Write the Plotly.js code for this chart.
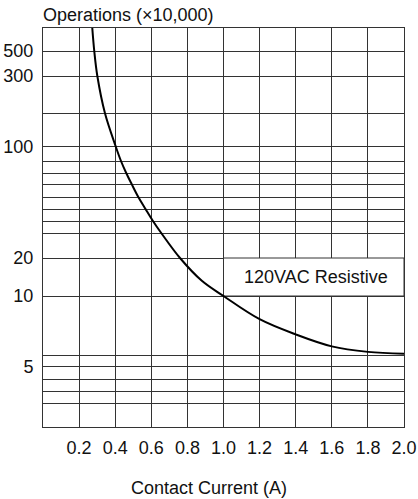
<!DOCTYPE html>
<html>
<head>
<meta charset="utf-8">
<script src="https://cdn.plot.ly/plotly-3.0.1.min.js"></script>
<style>html,body{margin:0;padding:0;background:#fff;}#chart{width:418px;height:499px;}</style>
</head>
<body>
<div id="chart"></div>
<script>
// ---- data ----
var currentA = [0.273, 0.284, 0.301, 0.343, 0.403, 0.432, 0.461, 0.491, 0.528, 0.568, 0.609, 0.655, 0.759, 0.88, 1.0, 1.2, 1.4, 1.6, 1.8, 2.0];
var operations = [800, 500, 300, 200, 100, 90, 80, 70, 60, 50, 40, 30, 20, 13.2, 10, 8.2, 7.2, 6.5, 6.2, 6.1];
var xTickVals = [0.2, 0.4, 0.6, 0.8, 1.0, 1.2, 1.4, 1.6, 1.8, 2.0];
var yGridVals = [2, 3, 4, 5, 6, 10, 20, 30, 40, 50, 60, 70, 80, 90, 100, 200, 300, 500];
var yLabelVals = [5, 10, 20, 100, 300, 500];
var seriesLabel = "120VAC Resistive";

// ---- the chart's own (non-uniform) y scale: value -> axis units ----
var scaleVals = [1, 2, 3, 4, 5, 6, 10, 20, 30, 40, 50, 60, 70, 80, 90, 100, 200, 300, 500, 800];
var scaleUnits = [0, 23.7, 35.3, 48, 60.7, 71.3, 131, 169, 194, 206, 218, 230, 243, 254, 266, 280.5, 314, 351, 376, 399];
function toU(v) {
  var lv = Math.log10(v);
  for (var i = 0; i < scaleVals.length - 1; i++) {
    var a = Math.log10(scaleVals[i]), b = Math.log10(scaleVals[i + 1]);
    if (lv <= b || i === scaleVals.length - 2) {
      return scaleUnits[i] + (lv - a) / (b - a) * (scaleUnits[i + 1] - scaleUnits[i]);
    }
  }
}

var font = {family: "Liberation Sans, Arial, sans-serif", size: 18, color: "#111"};
var gridC = "#333";

var trace = {
  x: currentA,
  y: operations.map(toU),
  type: "scatter",
  mode: "lines",
  line: {color: "#000", width: 2, shape: "spline", smoothing: 1.0},
  hoverinfo: "skip"
};

var layout = {
  width: 418, height: 499,
  margin: {l: 43, r: 14, t: 28, b: 72},
  paper_bgcolor: "#fff", plot_bgcolor: "#fff",
  showlegend: false,
  font: font,
  xaxis: {
    range: [0, 2.0],
    tickmode: "array",
    tickvals: xTickVals,
    ticktext: xTickVals.map(function (v) { return v.toFixed(1); }),
    showgrid: true, gridcolor: gridC, gridwidth: 1,
    zeroline: false,
    showline: true, linecolor: gridC, linewidth: 1, mirror: true,
    ticks: "", ticklabelstandoff: 4,
    tickfont: font, fixedrange: true
  },
  yaxis: {
    range: [0, 399],
    tickmode: "array",
    tickvals: yGridVals.map(toU),
    ticktext: yGridVals.map(function (v) { return yLabelVals.indexOf(v) >= 0 ? String(v) : ""; }),
    showgrid: true, gridcolor: gridC, gridwidth: 1,
    zeroline: false,
    showline: true, linecolor: gridC, linewidth: 1, mirror: true,
    ticks: "", ticklabelstandoff: 5,
    tickfont: font, fixedrange: true
  },
  shapes: [{
    type: "rect", xref: "x", yref: "y", layer: "between",
    x0: 1.0, x1: 2.0, y0: toU(10), y1: toU(20),
    fillcolor: "#fff", line: {color: gridC, width: 1}
  }],
  annotations: [
    {text: seriesLabel, xref: "x", yref: "y", x: 1.51, y: (toU(10) + toU(20)) / 2,
     showarrow: false, font: font, xanchor: "center", yanchor: "middle"},
    {text: "Operations (×10,000)", xref: "paper", yref: "paper", x: 0, y: 1,
     xanchor: "left", yanchor: "bottom", showarrow: false, font: font, xshift: -2, yshift: 1},
    {text: "Contact Current (A)", xref: "paper", yref: "paper", x: (209 - 43) / 361, y: -(488 - 427) / 399,
     xanchor: "center", yanchor: "middle", showarrow: false, font: font}
  ]
};

Plotly.newPlot("chart", [trace], layout, {displayModeBar: false, staticPlot: true});
</script>
</body>
</html>
